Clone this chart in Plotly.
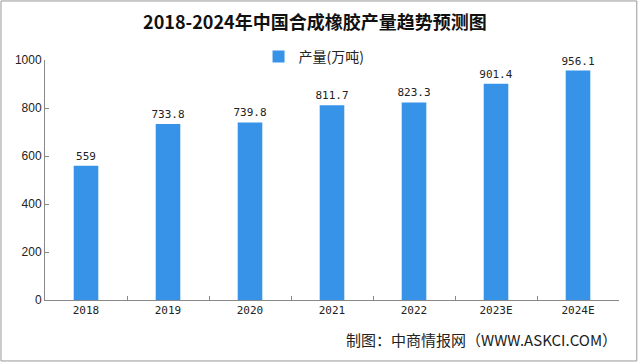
import plotly.graph_objects as go

categories = ["2018", "2019", "2020", "2021", "2022", "2023E", "2024E"]
values = [559, 733.8, 739.8, 811.7, 823.3, 901.4, 956.1]
labels = ["559", "733.8", "739.8", "811.7", "823.3", "901.4", "956.1"]
tick_vals = [0, 200, 400, 600, 800, 1000]

fig = go.Figure()
fig.add_trace(go.Bar(
    x=categories, y=values, name="产量(万吨)",
    marker=dict(color="#3793E8", line=dict(width=0)),
    text=labels, textposition="outside", constraintext="none",
    textfont=dict(size=11, color="#222", family="DejaVu Sans Mono, monospace"),
    cliponaxis=False, width=0.30,
))

fig.update_layout(
    width=640, height=363,
    paper_bgcolor="white", plot_bgcolor="white",
    margin=dict(l=45, r=21, t=60, b=63, autoexpand=False),
    title=dict(text="<b>2018-2024年中国合成橡胶产量趋势预测图</b>",
               x=0.492, xanchor="center", y=0.937, yanchor="middle",
               font=dict(size=18, color="#111", family="Noto Sans CJK SC")),
    showlegend=True,
    legend=dict(orientation="h", x=0.372, xanchor="left", y=1.0125, yanchor="middle",
                itemwidth=30,
                font=dict(size=14, color="#222", family="Noto Sans CJK SC"),
                bgcolor="rgba(0,0,0,0)"),
    font=dict(family="Noto Sans CJK SC", color="#222"),
)
fig.update_yaxes(range=[0, 1000], tickvals=tick_vals, showgrid=False,
                 showline=True, linecolor="#888", linewidth=1,
                 ticks="inside", ticklen=4, tickcolor="#888",
                 tickfont=dict(size=12, color="#222", family="Liberation Sans"),
                 zeroline=False)
fig.update_xaxes(showline=True, linecolor="#888", linewidth=1,
                 ticks="inside", tickson="boundaries", ticklen=4, tickcolor="#888",
                 tickfont=dict(size=11, color="#222", family="DejaVu Sans Mono, monospace"))

fig.add_annotation(text="制图：中商情报网（WWW.ASKCI.COM）", xref="paper", yref="paper",
                   x=1.0, xanchor="right", y=-0.165, yanchor="middle", showarrow=False,
                   font=dict(size=15, color="#222", family="Noto Sans CJK SC"))

fig.add_shape(type="rect", xref="paper", yref="paper", x0=-0.0767, x1=1.031, y0=-0.254, y1=1.246,
              line=dict(color="#999", width=1))

fig.write_html("out.html", config={"displayModeBar": False},
               post_script="document.body.style.margin='0';document.body.style.overflow='hidden';")
